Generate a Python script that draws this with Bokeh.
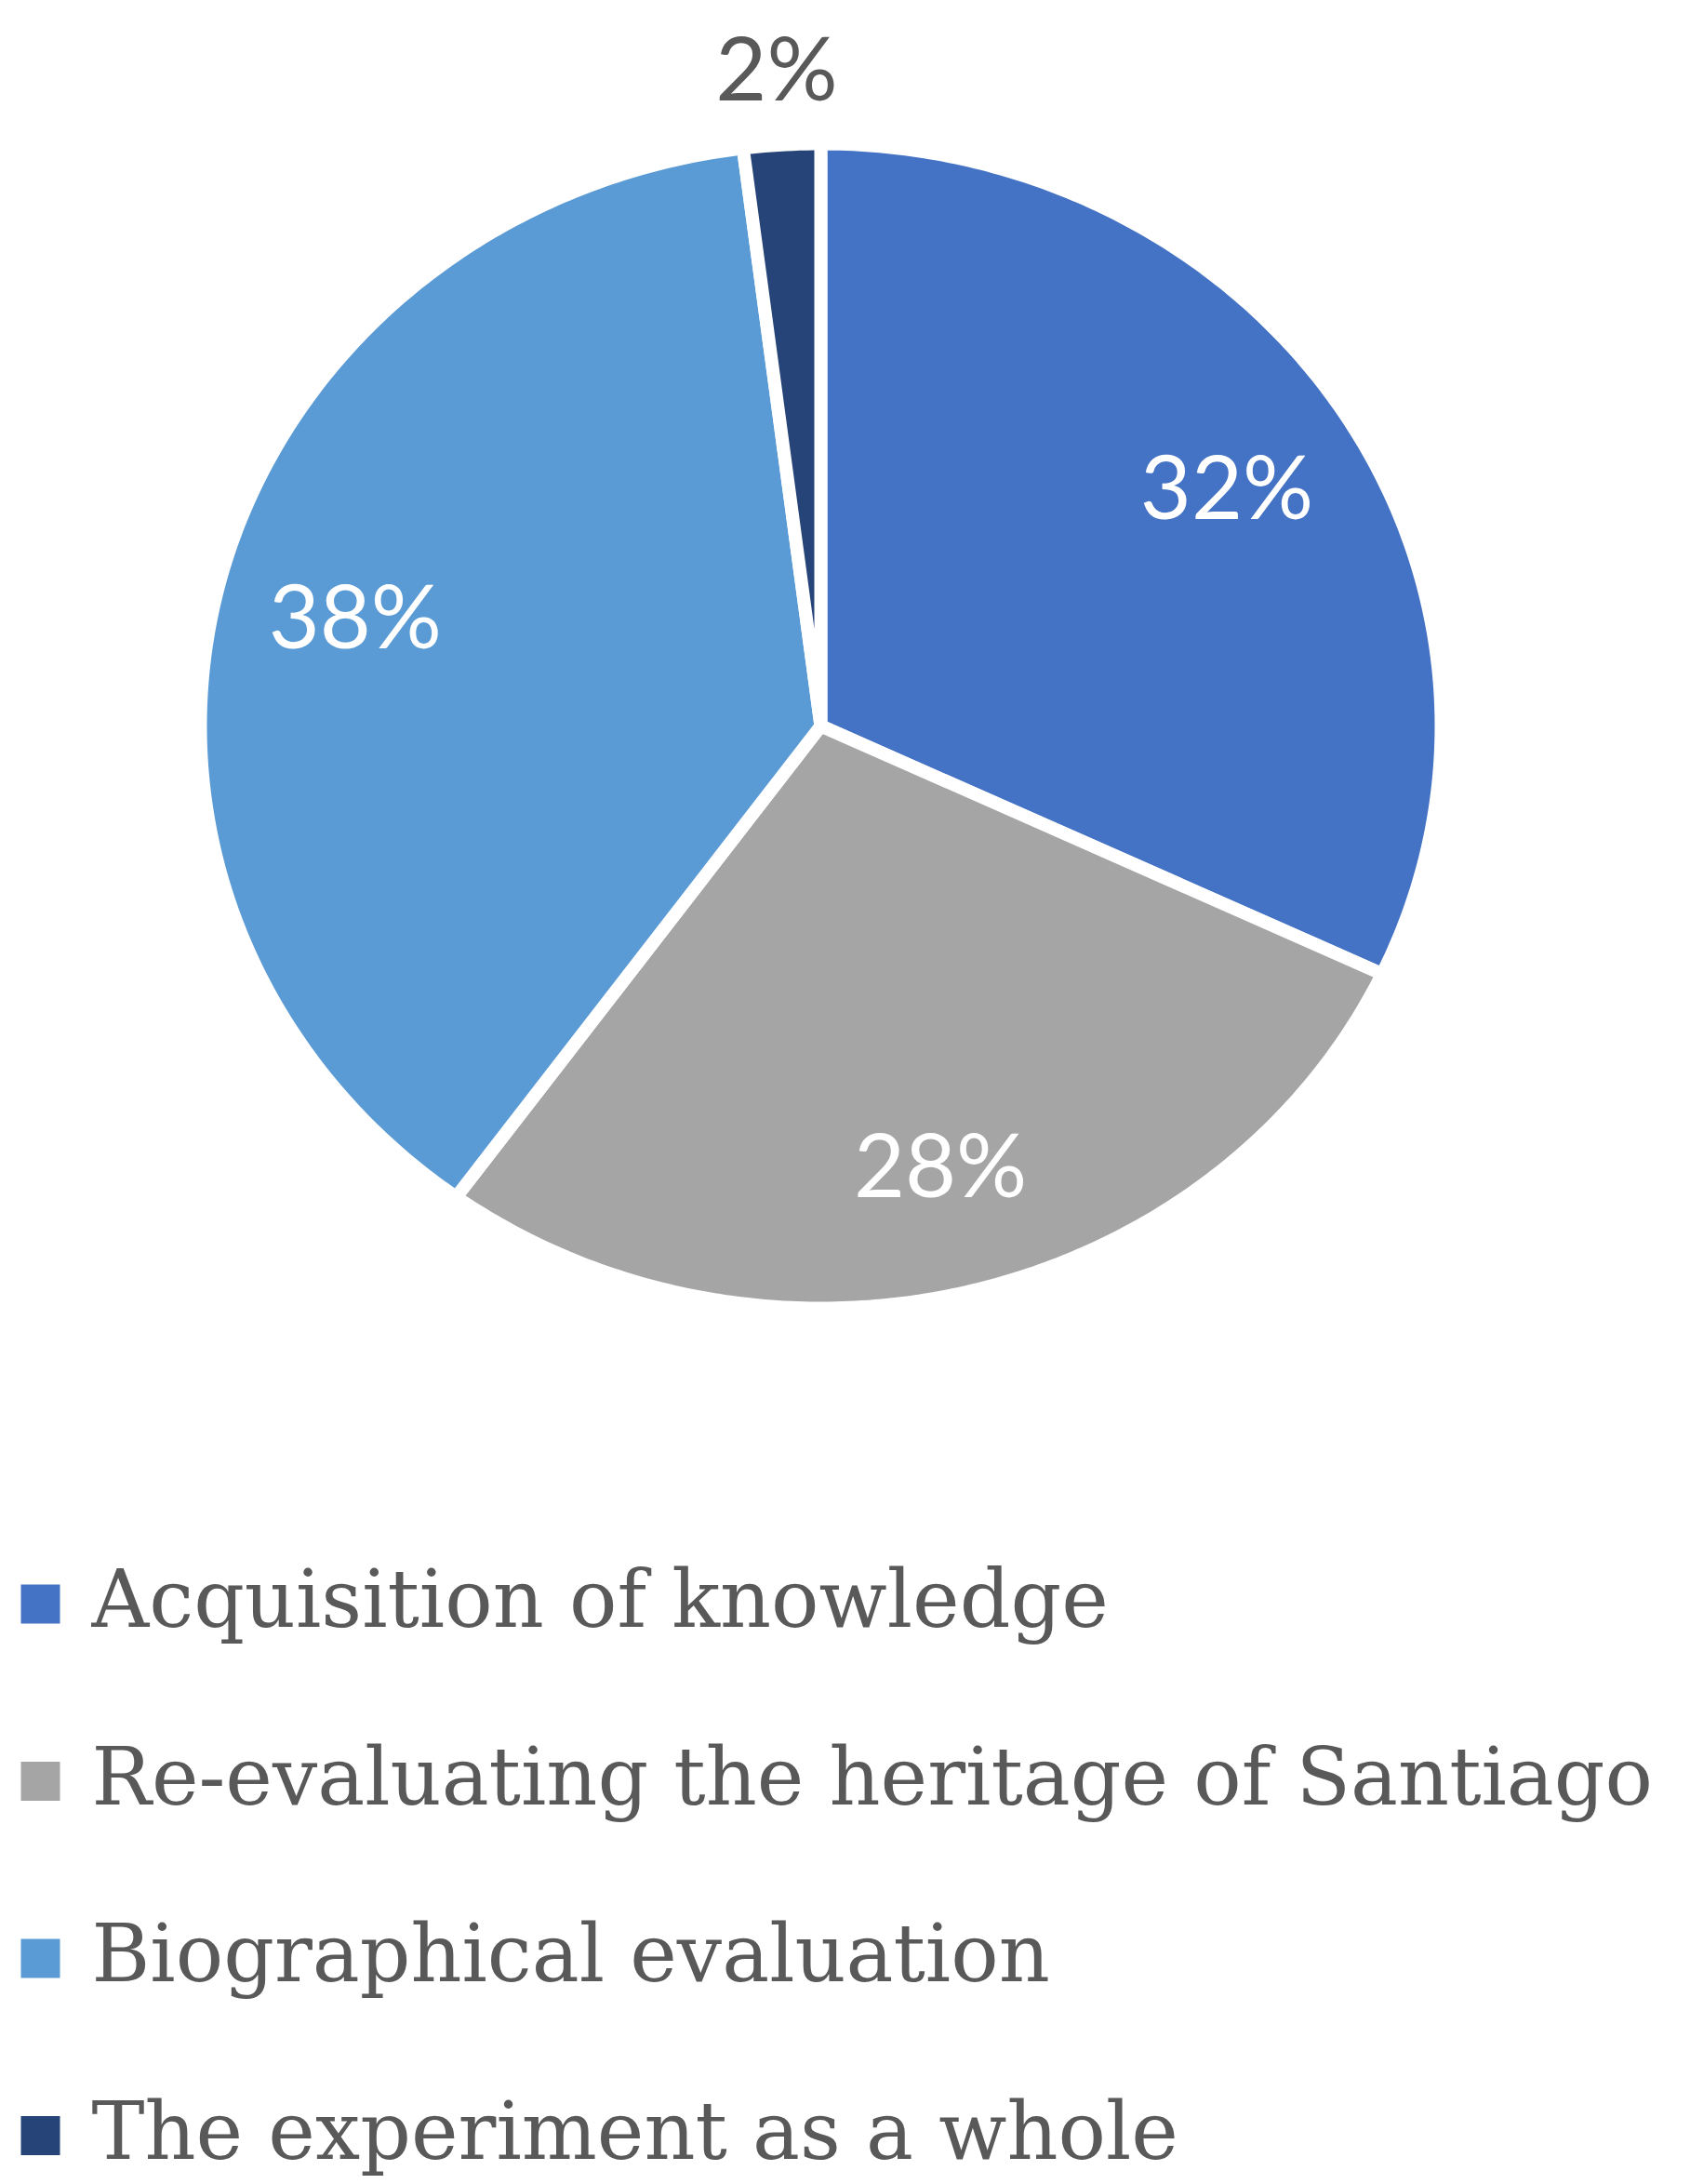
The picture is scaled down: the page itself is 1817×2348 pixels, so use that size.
import numpy as np
from bokeh.plotting import figure
from bokeh.models import Range1d, ColumnDataSource
from bokeh.core.properties import value
from bokeh.embed import file_html
from bokeh.resources import INLINE

# ---- data ----
categories = ["Acquisition of knowledge",
              "Re-evaluating the heritage of Santiago",
              "Biographical evaluation",
              "The experiment as a whole"]
shares = [32, 28, 38, 2]
colors = ["#4472C4", "#A5A5A5", "#5B9BD5", "#264478"]

# ---- layout ----
W, H = 1801, 2345
SX, SY = 667.0, 626.0      # px per data unit (elliptical pie)
CX, CY = 882.0, 780.0      # pie centre in frame pixels

def dx(px):   # frame px -> data x
    return (px - CX) / SX

def dy(py):   # frame px -> data y
    return (CY - py) / SY

p = figure(width=W, height=H, output_backend="svg", toolbar_location=None,
           x_range=Range1d(-CX / SX, (W - CX) / SX),
           y_range=Range1d(-(H - CY) / SY, CY / SY),
           min_border=0, x_axis_location=None, y_axis_location=None)
p.grid.visible = False
p.outline_line_color = None
p.background_fill_color = "white"

total = float(sum(shares))
xs_list, ys_list, lx, ly, ltxt, lcol = [], [], [], [], [], []
start = np.pi / 2
for s in shares:
    sweep = 2 * np.pi * s / total
    t = np.linspace(start, start - sweep, max(int(s * 6), 10))
    xs_list.append(np.concatenate([[0.0], np.cos(t), [0.0]]))
    ys_list.append(np.concatenate([[0.0], np.sin(t), [0.0]]))
    mid = start - sweep / 2
    r = 0.775 if s >= 5 else 1.135
    lx.append(r * np.cos(mid))
    ly.append(r * np.sin(mid))
    ltxt.append(f"{s}%")
    lcol.append("white" if s >= 5 else "#595959")
    start -= sweep

p.patches(xs=xs_list, ys=ys_list, fill_color=colors, line_color="white",
          line_width=14, line_join="round")

lab_src = ColumnDataSource(dict(x=lx, y=ly, text=ltxt, color=lcol))
p.text(x="x", y="y", text="text", source=lab_src, text_color="color",
       text_font=value("Lato"), text_font_size="95px",
       text_align="center", text_baseline="middle")

# ---- legend ----
n = len(categories)
sq_y = [dy(1724 + i * 190.5) for i in range(n)]
sq_x = [dx(43)] * n
txt_y = [dy(1719 + i * 190.5) for i in range(n)]
txt_x = [dx(98)] * n
p.scatter(x=sq_x, y=sq_y, marker="square", size=42, fill_color=colors,
          line_color=None)
leg_src = ColumnDataSource(dict(x=txt_x, y=txt_y, text=categories))
p.text(x="x", y="y", text="text", source=leg_src, text_color="#595959",
       text_font=value("DejaVu Serif"), text_font_size="85.5px",
       text_align="left", text_baseline="alphabetic")

open("out.html", "w").write(file_html(p, INLINE))
